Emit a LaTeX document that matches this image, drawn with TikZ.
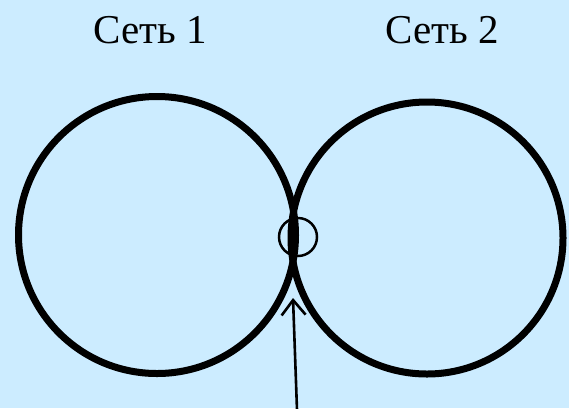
\documentclass[tikz,border=0pt]{standalone}
\usepackage{fontspec}
\setmainfont{Liberation Serif}
\usetikzlibrary{arrows.meta}
\definecolor{bgblue}{RGB}{204,236,255}
\tikzset{
  net/.style={draw=black, circle, line width=7pt, inner sep=0pt},
  junction/.style={draw=black, circle, line width=2.5pt, inner sep=0pt, minimum size=38pt},
  lbl/.style={font=\fontsize{41}{45}\selectfont, anchor=base},
  pointer/.style={line width=2.6pt, -{Straight Barb[length=15pt,width=24pt,line width=2.6pt]}}
}
\begin{document}
\begin{tikzpicture}[x=1pt,y=-1pt]
  \fill[bgblue] (0,0) rectangle (569,408);
  \useasboundingbox (0,0) rectangle (569,408);
  \node[net, minimum size=277pt] (net1) at (157,235) {};
  \node[net, minimum size=272pt] (net2) at (427,238) {};
  \node[junction] (jn) at (298,237) {};
  \node[lbl] (t1) at (150,43) {Сеть 1};
  \node[lbl] (t2) at (442,43) {Сеть 2};
  \coordinate (tail) at (297,410);
  \coordinate (tip) at (293,298);
  \draw[pointer] (tail) -- (tip);
\end{tikzpicture}
\end{document}
